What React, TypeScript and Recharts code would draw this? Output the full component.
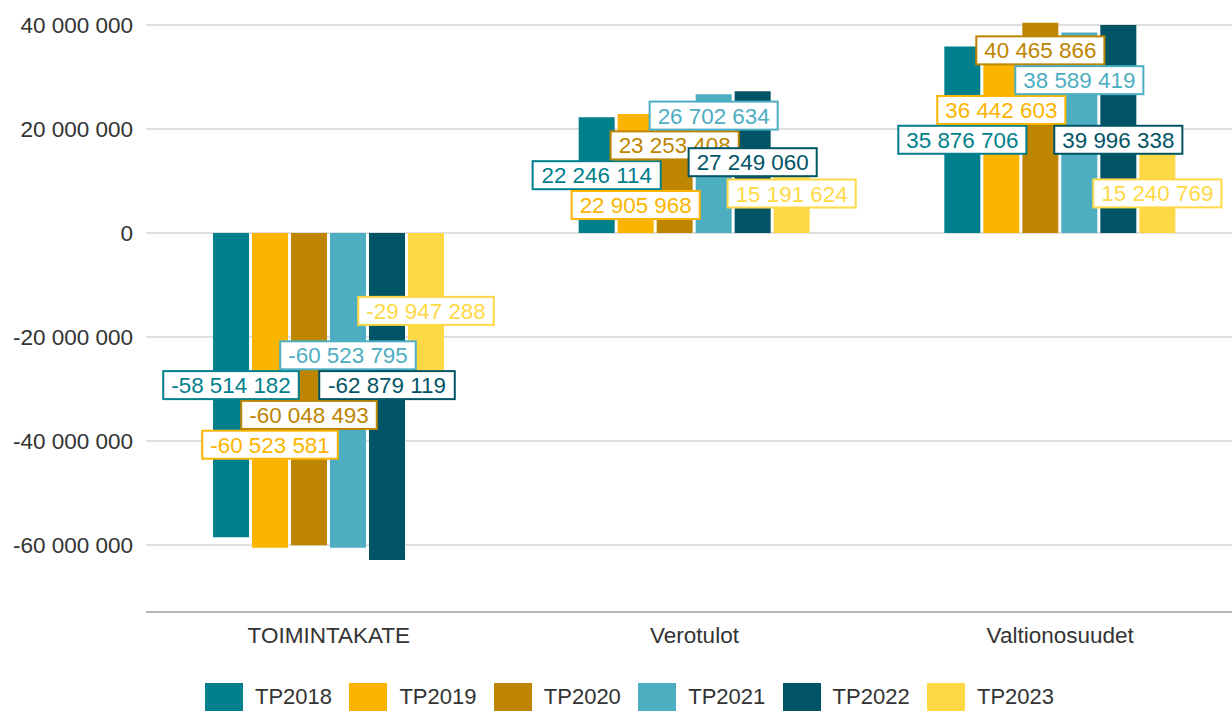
import React from 'react';
import { BarChart, Bar, XAxis, YAxis, CartesianGrid, LabelList } from 'recharts';

const categories = ['TOIMINTAKATE', 'Verotulot', 'Valtionosuudet'];
const seriesNames = ['TP2018', 'TP2019', 'TP2020', 'TP2021', 'TP2022', 'TP2023'];
const tp2018 = [-58514182, 22246114, 35876706];
const tp2019 = [-60523581, 22905968, 36442603];
const tp2020 = [-60048493, 23253408, 40465866];
const tp2021 = [-60523795, 26702634, 38589419];
const tp2022 = [-62879119, 27249060, 39996338];
const tp2023 = [-29947288, 15191624, 15240769];
const yTicks = [-60000000, -40000000, -20000000, 0, 20000000, 40000000];

const seriesValues = [tp2018, tp2019, tp2020, tp2021, tp2022, tp2023];
const colors = ['#007F8C', '#FBB500', '#BD8500', '#4DAEC2', '#015466', '#FFD846'];

// label stacking rows relative to the first series' label (null = centred in own bar)
const labelRows: (number | null)[][] = [
  [0, 2, 1, -1, 0, null],
  [0, 1, -1, -2, null, null],
  [0, -1, -3, -2, 0, null],
];
const ROW_H = 29.8;
const FONT = '"Liberation Sans", Arial, Helvetica, sans-serif';
const LABEL_FS = 22.4;

const data = categories.map((name, i) => {
  const row: Record<string, any> = { name };
  seriesNames.forEach((s, j) => {
    row[s] = seriesValues[j][i];
  });
  return row;
});

const fmt = (v: number) => {
  const neg = v < 0;
  const s = Math.abs(Math.round(v)).toString().replace(/\B(?=(\d{3})+(?!\d))/g, ' ');
  return (neg ? '-' : '') + s;
};

const textW = (t: string, fs: number) => {
  let w = 0;
  for (const ch of t) {
    if (ch === ' ') w += 0.278;
    else if (ch === '-') w += 0.333;
    else w += 0.556;
  }
  return w * fs;
};

const makeLabel = (s: number) => (props: any) => {
  const vb = props.viewBox || {};
  const bx = props.x ?? vb.x;
  const by = props.y ?? vb.y;
  const bw = props.width ?? vb.width;
  const bh = props.height ?? vb.height;
  const index = props.index;
  if (bx == null || by == null || index == null) return null;
  const v = seriesValues[s][index];
  const cx = bx + bw / 2;
  const cy = by + bh / 2;
  const ppu = Math.abs(bh) / Math.abs(v);
  const zero = cy + (v * ppu) / 2;
  const row = labelRows[index][s];
  let ly = cy;
  if (row !== null) {
    const anchor = zero - (seriesValues[0][index] * ppu) / 2;
    ly = anchor + row * ROW_H;
  }
  const text = fmt(v);
  const w = textW(text, LABEL_FS) + 16;
  const h = 28;
  return (
    <g>
      <rect x={cx - w / 2} y={ly - h / 2} width={w} height={h} fill="#ffffff" stroke={colors[s]} strokeWidth={2} />
      <text x={cx} y={ly} dy="0.36em" textAnchor="middle" fontSize={LABEL_FS} fontFamily={FONT} fill={colors[s]}>
        {text}
      </text>
    </g>
  );
};

export default function App() {
  return (
    <div
      style={{
        position: 'absolute',
        left: 0,
        top: 0,
        width: 1232,
        height: 711,
        overflow: 'hidden',
        background: '#ffffff',
        fontFamily: FONT,
      }}
    >
      <BarChart
        width={1243}
        height={672}
        data={data}
        margin={{ top: 10, right: 0, left: 0, bottom: 0 }}
        barGap={3}
        barSize={36}
      >
        <CartesianGrid vertical={false} horizontalValues={yTicks} stroke="#d4d4d4" strokeWidth={1.5} />
        <XAxis
          dataKey="name"
          height={60}
          tickSize={0}
          tickMargin={15}
          axisLine={{ stroke: '#b5b5b5', strokeWidth: 2 }}
          tick={{ fill: '#333333', fontSize: 22.5, fontFamily: FONT }}
        />
        <XAxis xAxisId="lbl" dataKey="name" hide />
        <YAxis
          width={146}
          domain={[-72900000, 42900000]}
          ticks={yTicks}
          interval={0}
          tickSize={0}
          tickMargin={13}
          axisLine={false}
          tickLine={false}
          tickFormatter={fmt}
          tick={{ fill: '#333333', fontSize: 22.5, fontFamily: FONT }}
        />
        {seriesNames.map((s, i) => (
          <Bar key={s} dataKey={s} fill={colors[i]} isAnimationActive={false} />
        ))}
        {seriesNames.map((s, i) => (
          <Bar
            key={'lbl' + s}
            dataKey={s}
            xAxisId="lbl"
            fill="transparent"
            isAnimationActive={false}
            legendType="none"
          >
            <LabelList dataKey={s} content={makeLabel(i)} />
          </Bar>
        ))}
      </BarChart>
      <div style={{ position: 'absolute', left: 0, top: 683, width: 1232, height: 40 }}>
        {seriesNames.map((s, i) => (
          <div
            key={s}
            style={{
              position: 'absolute',
              left: 205 + i * 144.4,
              top: 0,
              display: 'flex',
              alignItems: 'flex-start',
            }}
          >
            <div style={{ width: 38, height: 30, background: colors[i] }} />
            <div
              style={{
                marginLeft: 12,
                fontSize: 22,
                lineHeight: '28px',
                color: '#333333',
                fontFamily: FONT,
              }}
            >
              {s}
            </div>
          </div>
        ))}
      </div>
    </div>
  );
}
